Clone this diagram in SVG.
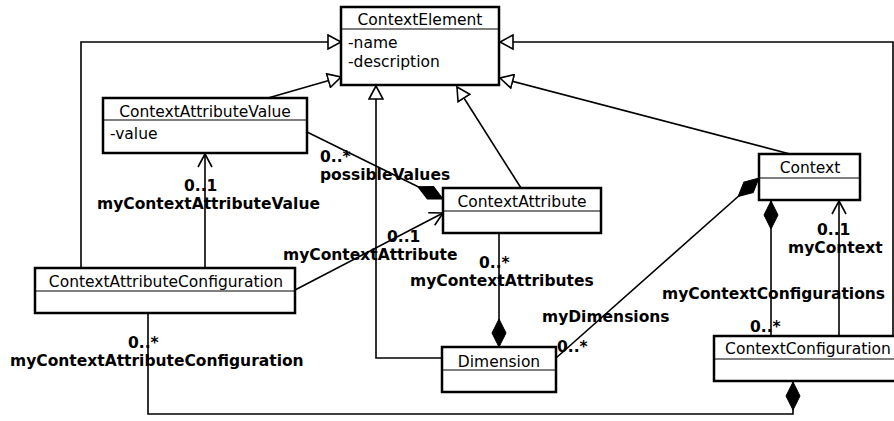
<svg xmlns="http://www.w3.org/2000/svg" width="894" height="421" viewBox="0 0 894 421">
<style>
.box{fill:#fff;stroke:#000;stroke-width:2.5}
.sep{stroke:#000;stroke-width:1.2}
.name{font-family:"DejaVu Sans",sans-serif;font-size:15.5px;text-anchor:middle;fill:#000}
.attr{font-family:"DejaVu Sans",sans-serif;font-size:15.5px;fill:#000}
.lbl{font-family:"DejaVu Sans",sans-serif;font-size:15.5px;font-weight:bold;fill:#000}
.ln{fill:none;stroke:#000;stroke-width:1.6}
.gen{marker-end:url(#tri)}
.comp{marker-end:url(#dia)}
.nav{marker-end:url(#arr)}
</style>
<defs>
<marker id="tri" markerUnits="userSpaceOnUse" markerWidth="16" markerHeight="16" refX="13" refY="7" orient="auto" viewBox="-1 -1 16 16">
<path d="M0,0 L13,7 L0,14 Z" fill="#fff" stroke="#000" stroke-width="1.6"/>
</marker>
<marker id="dia" markerUnits="userSpaceOnUse" markerWidth="30" markerHeight="18" refX="28" refY="8" orient="auto" viewBox="-1 -1 30 18">
<path d="M0,8 L14,1 L28,8 L14,15 Z" fill="#000" stroke="#000" stroke-width="1"/>
</marker>
<marker id="arr" markerUnits="userSpaceOnUse" markerWidth="16" markerHeight="16" refX="13" refY="7" orient="auto" viewBox="-1 -1 16 16">
<path d="M0,0 L13,7 L0,14" fill="none" stroke="#000" stroke-width="1.6"/>
</marker>
</defs>

<g id="connectors">
<path class="ln gen" d="M81,268 L81,42 L341,42"/>
<path class="ln gen" d="M268,98 L341,77"/>
<path class="ln gen" d="M442,358 L376,358 L376,86"/>
<path class="ln gen" d="M521,188 L457,87"/>
<path class="ln gen" d="M790,154 L500,78"/>
<path class="ln gen" d="M893,336 L893,42 L500,42" stroke="#555"/>
<path class="ln comp" d="M307,132 L443,199"/>
<path class="ln nav" d="M205,268 L205,154"/>
<path class="ln nav" d="M295,290 L443,213"/>
<path class="ln comp" d="M499,233 L499,347"/>
<path class="ln comp" d="M556,358 L759,178"/>
<path class="ln comp" d="M771,336 L771,201"/>
<path class="ln nav" d="M839,336 L839,201"/>
<path class="ln comp" d="M148,313 L148,414 L793,414 L793,382"/>
</g>

<g id="labels">
<text class="lbl" x="320" y="162">0..*</text>
<text class="lbl" x="320" y="180">possibleValues</text>
<text class="lbl" x="184" y="191">0..1</text>
<text class="lbl" x="97" y="209">myContextAttributeValue</text>
<text class="lbl" x="387" y="242">0..1</text>
<text class="lbl" x="283" y="260">myContextAttribute</text>
<text class="lbl" x="479" y="268">0..*</text>
<text class="lbl" x="410" y="286">myContextAttributes</text>
<text class="lbl" x="542" y="322">myDimensions</text>
<text class="lbl" x="557" y="352">0..*</text>
<text class="lbl" x="662" y="299">myContextConfigurations</text>
<text class="lbl" x="750" y="332">0..*</text>
<text class="lbl" x="817" y="235">0..1</text>
<text class="lbl" x="788" y="253">myContext</text>
<text class="lbl" x="128" y="348">0..*</text>
<text class="lbl" x="10" y="366">myContextAttributeConfiguration</text>
</g>

<g id="ContextElement">
<rect class="box" x="341" y="7" width="158" height="78"/>
<line class="sep" x1="341" y1="29" x2="499" y2="29"/>
<text class="name" x="420" y="25">ContextElement</text>
<text class="attr" x="348" y="48">-name</text>
<text class="attr" x="348" y="67">-description</text>
</g>

<g id="ContextAttributeValue">
<rect class="box" x="103" y="98" width="204" height="55"/>
<line class="sep" x1="103" y1="120" x2="307" y2="120"/>
<text class="name" x="205" y="117">ContextAttributeValue</text>
<text class="attr" x="110" y="139">-value</text>
</g>

<g id="ContextAttribute">
<rect class="box" x="443" y="188" width="158" height="45"/>
<line class="sep" x1="443" y1="211" x2="601" y2="211"/>
<text class="name" x="522" y="207">ContextAttribute</text>
</g>

<g id="Context">
<rect class="box" x="759" y="154" width="101" height="46"/>
<line class="sep" x1="759" y1="178" x2="860" y2="178"/>
<text class="name" x="810" y="173">Context</text>
</g>

<g id="ContextAttributeConfiguration">
<rect class="box" x="35" y="268" width="260" height="45"/>
<line class="sep" x1="35" y1="291" x2="295" y2="291"/>
<text class="name" x="166" y="287">ContextAttributeConfiguration</text>
</g>

<g id="Dimension">
<rect class="box" x="442" y="347" width="114" height="45"/>
<line class="sep" x1="442" y1="370" x2="556" y2="370"/>
<text class="name" x="499" y="367">Dimension</text>
</g>

<g id="ContextConfiguration">
<rect class="box" x="714" y="336" width="190" height="45"/>
<line class="sep" x1="714" y1="359" x2="904" y2="359"/>
<text class="name" x="808" y="354">ContextConfiguration</text>
</g>
</svg>
